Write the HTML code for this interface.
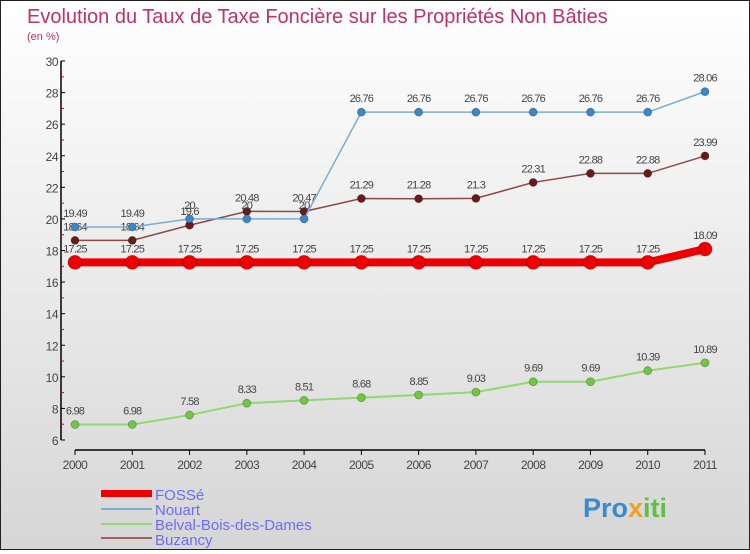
<!DOCTYPE html>
<html><head><meta charset="utf-8"><style>
html,body{margin:0;padding:0}
body{width:750px;height:550px;overflow:hidden;font-family:"Liberation Sans",sans-serif}
#wrap{position:relative;width:748px;height:548px;border:1px solid #222;background:linear-gradient(#ffffff,#d6d6d6)}
</style></head><body>
<div id="wrap">
<svg id="chart" width="748" height="548" xmlns="http://www.w3.org/2000/svg">
<text x="26" y="22" font-size="20" fill="#c0306a">Evolution du Taux de Taxe Foncière sur les Propriétés Non Bâties</text>
<text x="26" y="39" font-size="11" fill="#c0306a">(en %)</text>
<g id="axes"></g><g id="series"></g>
<g id="legend">
<rect x="100" y="489" width="51" height="7" fill="#ee0000"/>
<text x="154" y="499" font-size="15" fill="#6b6bff">FOSSé</text>
<line x1="100" x2="151" y1="508" y2="508" stroke="#7aaed0" stroke-width="2"/>
<text x="154" y="514" font-size="15" fill="#6b6bff">Nouart</text>
<line x1="100" x2="151" y1="523" y2="523" stroke="#90d870" stroke-width="2"/>
<text x="154" y="529" font-size="15" fill="#6b6bff">Belval-Bois-des-Dames</text>
<line x1="100" x2="151" y1="537" y2="537" stroke="#a06060" stroke-width="2"/>
<text x="154" y="544" font-size="15" fill="#6b6bff">Buzancy</text>
</g>
<g>
<text x="582" y="516" font-size="27" font-weight="bold" fill="#3a8ad0">Pro<tspan fill="#f0a020">x</tspan><tspan fill="#60c040">iti</tspan></text>
</g>
</svg>
</div>
<script>
const years=["2000","2001","2002","2003","2004","2005","2006","2007","2008","2009","2010","2011"];
const yTicks=[6,8,10,12,14,16,18,20,22,24,26,28,30];
const fosse=[17.25,17.25,17.25,17.25,17.25,17.25,17.25,17.25,17.25,17.25,17.25,18.09];
const nouart=[19.49,19.49,20,20,20,26.76,26.76,26.76,26.76,26.76,26.76,28.06];
const belval=[6.98,6.98,7.58,8.33,8.51,8.68,8.85,9.03,9.69,9.69,10.39,10.89];
const buzancy=[18.64,18.64,19.6,20.48,20.47,21.29,21.28,21.3,22.31,22.88,22.88,23.99];
const NS="http://www.w3.org/2000/svg";
const X=i=>74+i*(630/11);
const Y=v=>439-(v-6)*(379/24);
function mk(t,a,p){const e=document.createElementNS(NS,t);for(const k in a)e.setAttribute(k,a[k]);p.appendChild(e);return e;}
const ax=document.getElementById('axes');
const yl=mk('line',{x1:60,x2:60,y1:Y(30),y2:Y(6),stroke:'#000','stroke-width':1.5},ax);


const xl=mk('line',{x1:X(0),x2:X(11),y1:449,y2:449,stroke:'#000','stroke-width':1.5},ax);


yTicks.forEach(v=>{
  mk('line',{x1:60,x2:64,y1:Y(v),y2:Y(v),stroke:'#000'},ax);
  if(v<30)mk('line',{x1:60,x2:63,y1:Y(v+1),y2:Y(v+1),stroke:'#e00'},ax);
  const t=mk('text',{x:57,y:Y(v)+5,'font-size':12,'text-anchor':'end',fill:'#444','letter-spacing':'-0.5'},ax);
  t.textContent=v;
  
  
});
years.forEach((y,i)=>{
  mk('line',{x1:X(i),x2:X(i),y1:449,y2:454,stroke:'#000'},ax);
  const t=mk('text',{x:X(i),y:468,'font-size':12,'text-anchor':'middle',fill:'#444','letter-spacing':'-0.5'},ax);
  t.textContent=y;
  
  
});
const sg=document.getElementById('series');
function series(data,name,color,dot,w,r){
  const g=mk('g',{},sg);
  
  
  const l=mk('polyline',{points:data.map((v,i)=>X(i)+','+Y(v)).join(' '),fill:'none',stroke:color,'stroke-width':w},g);
  
  
  data.forEach((v,i)=>{
    const c=mk('circle',{cx:X(i),cy:Y(v),r:r,fill:dot,stroke:'rgba(0,0,0,0.3)','stroke-width':0.8},g);
    
    
    const t=mk('text',{x:X(i),y:Y(v)-10,'font-size':11,'text-anchor':'middle',fill:'#444','letter-spacing':'-0.8'},g);
    t.textContent=v;
    
    
  });
}
series(belval,'belval','#90d870','#70c840',2,4);
series(buzancy,'buzancy','#8a4a4a','#6a1a1a',1.5,4);
series(nouart,'nouart','#7aaed0','#3a88c8',1.5,4);
series(fosse,'fosse','#ee0000','#ee0000',8,7);
</script>
</body></html>
